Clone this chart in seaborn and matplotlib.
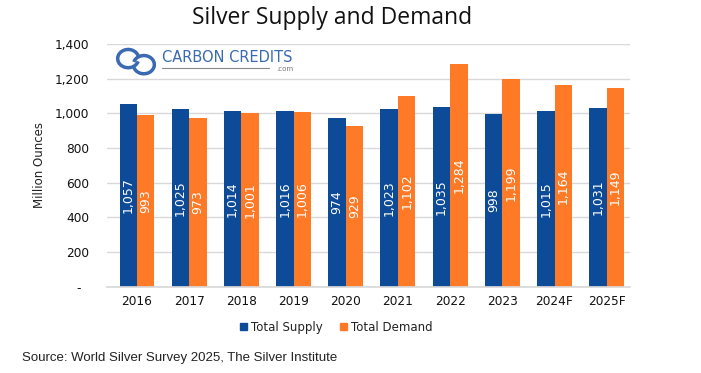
import matplotlib
matplotlib.use("Agg")
import matplotlib.pyplot as plt
from matplotlib.patches import Arc
import seaborn as sns
import pandas as pd

years = ['2016', '2017', '2018', '2019', '2020', '2021', '2022', '2023', '2024F', '2025F']
supply = [1057, 1025, 1014, 1016, 974, 1023, 1035, 998, 1015, 1031]
demand = [993, 973, 1001, 1006, 929, 1102, 1284, 1199, 1164, 1149]
series = ['Total Supply', 'Total Demand']
colors = ['#0D4A97', '#FF7A27']

df = pd.DataFrame({
    'year': years * 2,
    'value': supply + demand,
    'series': [series[0]] * len(years) + [series[1]] * len(years),
})

sns.set_theme(style='white')
plt.rcParams['font.family'] = ['DejaVu Sans']

fig = plt.figure(figsize=(7.01, 3.73), dpi=100)
ax = fig.add_axes([0.153, 0.231, 0.746, 0.651])

sns.barplot(data=df, x='year', y='value', hue='series', palette=colors,
            width=0.67, saturation=1, linewidth=0, ax=ax, legend=False)

# labels in the middle of each bar
for cont in ax.containers:
    ax.bar_label(cont, labels=[f'{v:,.0f}' for v in cont.datavalues],
                 label_type='center', rotation=90, color='white', fontsize=9)

ax.set_ylim(0, 1400)
ax.set_xlim(-0.57, 9.45)
ax.set_yticks(range(0, 1401, 200))
ax.set_yticklabels(['-  '] + [f'{v:,}' for v in range(200, 1401, 200)])
ax.yaxis.grid(True, color='#D9D9D9', linewidth=1)
ax.set_axisbelow(True)
for s in ['top', 'right', 'left']:
    ax.spines[s].set_visible(False)
ax.spines['bottom'].set_color('#D9D9D9')
ax.tick_params(axis='x', length=0, labelsize=8.7, colors='#111111', pad=6)
ax.tick_params(axis='y', length=0, labelsize=8.7, colors='#111111', pad=13)
ax.set_xlabel('')
ax.set_ylabel('Million Ounces', fontsize=8.5, color='#222222')
ax.yaxis.set_label_coords(-0.117, 0.5)

fig.text(0.474, 0.952, 'Silver Supply and Demand', ha='center', va='center',
         fontsize=16.5, family='Open Sans', color='#111111')

# legend
handles = [plt.Rectangle((0, 0), 1, 1, color=c) for c in colors]
fig.legend(handles, series, loc='center', bbox_to_anchor=(0.48, 0.123), ncol=2,
           frameon=False, fontsize=8.5, handlelength=0.6, handleheight=0.6,
           handletextpad=0.3, columnspacing=1.5, labelcolor='#222222')

# watermark logo
logo = '#3A6AB2'
ax.add_patch(Arc((0.040, 0.940), 0.040, 0.075, theta1=30, theta2=330,
                 transform=ax.transAxes, color=logo, lw=2.5))
ax.add_patch(Arc((0.070, 0.915), 0.040, 0.075, theta1=210, theta2=150,
                 transform=ax.transAxes, color=logo, lw=2.5))
ax.text(0.105, 0.946, 'CARBON CREDITS', transform=ax.transAxes, fontsize=10.5,
        color=logo, va='center')
ax.plot([0.105, 0.31], [0.90, 0.90], transform=ax.transAxes, color='#888888', lw=0.8)
ax.text(0.34, 0.897, '.com', transform=ax.transAxes, fontsize=5, color='#777777',
        va='center', ha='center')

fig.text(0.031, 0.04, 'Source: World Silver Survey 2025, The Silver Institute',
         fontsize=9.5, family='Liberation Sans', color='#222222', va='center')

fig.savefig('out.png', dpi=100)
